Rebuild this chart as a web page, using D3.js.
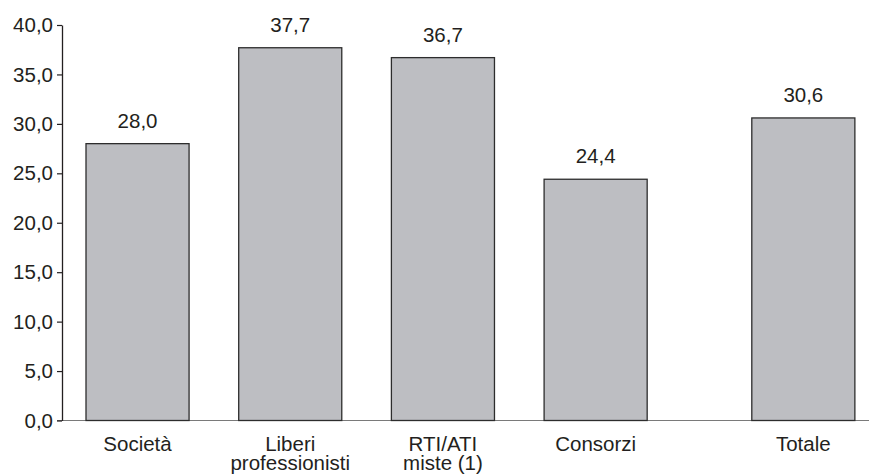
<!DOCTYPE html>
<html>
<head>
<meta charset="utf-8">
<script src="https://cdn.jsdelivr.net/npm/d3@7"></script>
<style>
  html, body { margin: 0; padding: 0; background: #fff; }
  svg { display: block; }
  text { font-family: "Liberation Sans", Arial, Helvetica, sans-serif; fill: #231f20; }
</style>
</head>
<body>
<svg id="chart" width="869" height="475"></svg>
<script>
const categories = ["Società", "Liberi\nprofessionisti", "RTI/ATI\nmiste (1)", "Consorzi", "Totale"];
const values = [28.0, 37.7, 36.7, 24.4, 30.6];
const valueLabels = ["28,0", "37,7", "36,7", "24,4", "30,6"];
const yTicks = [0, 5, 10, 15, 20, 25, 30, 35, 40];
const separatedCategory = "Totale";

const svg = d3.select("#chart");
const W = 869, H = 475;
const axisX = 62;
const y = d3.scaleLinear().domain([0, 40]).range([420.5, 25]);

const step = 152.7;
const padIn = 0.325;
const x = d3.scaleBand()
  .domain(categories)
  .range([86, 86 + step * (categories.length - padIn)])
  .paddingInner(padIn)
  .paddingOuter(0);
const groupGap = 55;
const xPos = d => x(d) + (d === separatedCategory ? groupGap : 0);

// baseline (gray, extends to right edge)
svg.append("line")
  .attr("x1", axisX - 5).attr("x2", W)
  .attr("y1", y(0)).attr("y2", y(0))
  .attr("stroke", "#7a7a7a").attr("stroke-width", 1.2);

// y axis
const fmt = v => d3.format(".1f")(v).replace(".", ",");
const yAxis = d3.axisLeft(y).tickValues(yTicks).tickFormat(fmt).tickSize(5).tickSizeOuter(0).tickPadding(4);
const gy = svg.append("g").attr("transform", `translate(${axisX},0)`).call(yAxis);
gy.select(".domain").attr("stroke", "#231f20").attr("stroke-width", 1.3);
gy.selectAll(".tick line").attr("stroke", "#231f20").attr("stroke-width", 1.2);
gy.selectAll(".tick text")
  .style("font-family", "'Liberation Sans', Arial, sans-serif")
  .style("font-size", "20.5px")
  .attr("fill", "#231f20");

// bars
const data = categories.map((c, i) => ({ c, v: values[i], label: valueLabels[i] }));
svg.append("g").selectAll("rect").data(data).join("rect")
  .attr("x", d => xPos(d.c))
  .attr("y", d => y(d.v))
  .attr("width", x.bandwidth())
  .attr("height", d => y(0) - y(d.v))
  .attr("fill", "#bdbec2")
  .attr("stroke", "#2d2d2d")
  .attr("stroke-width", 1.3);

// value labels
svg.append("g").selectAll("text").data(data).join("text")
  .attr("x", d => xPos(d.c) + x.bandwidth() / 2)
  .attr("y", d => y(d.v) - 16)
  .attr("text-anchor", "middle")
  .style("font-size", "20.5px")
  .text(d => d.label);

// category labels
const cg = svg.append("g").selectAll("text").data(categories).join("text")
  .attr("x", d => xPos(d) + x.bandwidth() / 2)
  .attr("y", 451)
  .attr("text-anchor", "middle")
  .style("font-size", "20.5px");
cg.each(function(d) {
  const lines = d.split("\n");
  d3.select(this).selectAll("tspan").data(lines).join("tspan")
    .attr("x", xPos(d) + x.bandwidth() / 2)
    .attr("dy", (l, i) => i === 0 ? 0 : 19)
    .text(l => l);
});
</script>
</body>
</html>
